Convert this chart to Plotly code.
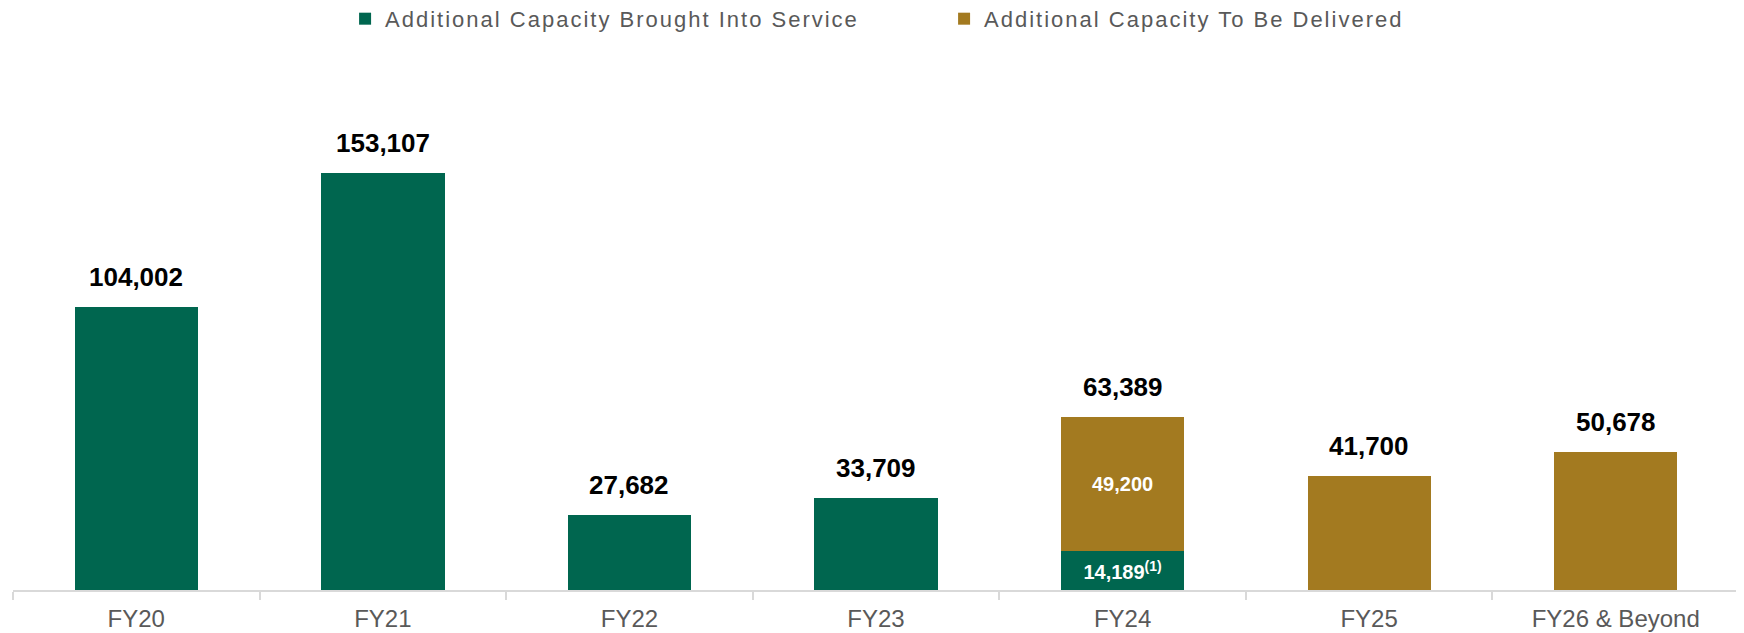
import plotly.graph_objects as go

years = ["FY20", "FY21", "FY22", "FY23", "FY24", "FY25", "FY26 & Beyond"]
in_service = [104002, 153107, 27682, 33709, 14189, None, None]
to_deliver = [None, None, None, None, 49200, 41700, 50678]
totals = [104002, 153107, 27682, 33709, 63389, 41700, 50678]
in_service_text = [None, None, None, None, "14,189<sup>(1)</sup>", None, None]
to_deliver_text = [None, None, None, None, "49,200", None, None]

GREEN = "#00664f"
GOLD = "#a37a20"
GREY = "#595959"
FONT = "Liberation Sans, Arial, sans-serif"


def spaced(s):
    # legend text in the original is slightly letter-spaced
    return f'<span style="letter-spacing:2px">{s}</span>'


fig = go.Figure()
fig.add_trace(go.Bar(
    x=years, y=in_service, name=spaced("Additional Capacity Brought Into Service"),
    marker=dict(color=GREEN, line=dict(width=0)),
    text=in_service_text, textposition="inside", insidetextanchor="middle",
    textangle=0, constraintext="none",
    textfont=dict(color="white", size=20, family=FONT, weight="bold"),
))
fig.add_trace(go.Bar(
    x=years, y=to_deliver, name=spaced("Additional Capacity To Be Delivered"),
    marker=dict(color=GOLD, line=dict(width=0)),
    text=to_deliver_text, textposition="inside", insidetextanchor="middle",
    textangle=0, constraintext="none",
    textfont=dict(color="white", size=20, family=FONT, weight="bold"),
))

# total labels above each column
for yr, tot in zip(years, totals):
    fig.add_annotation(
        x=yr, y=tot, text=f"{tot:,}", showarrow=False,
        yanchor="bottom", yshift=13,
        font=dict(color="black", size=26, family=FONT, weight="bold"),
    )

fig.update_layout(
    barmode="stack",
    bargap=0.5,
    width=1736, height=625,
    margin=dict(l=5, r=5, t=50, b=43, autoexpand=False),
    plot_bgcolor="white", paper_bgcolor="white",
    font=dict(family=FONT, color=GREY),
    showlegend=True,
    legend=dict(
        orientation="h", xref="paper", x=0.1924, xanchor="left",
        yref="paper", y=1.113, yanchor="top",
        font=dict(size=22, color=GREY), entrywidth=554, traceorder="normal",
    ),
    xaxis=dict(
        showline=True, linecolor="#d9d9d9", linewidth=2, automargin=False,
        ticks="outside", tickson="boundaries", ticklen=8, tickwidth=1.5,
        tickcolor="#d9d9d9", ticklabelstandoff=6,
        tickfont=dict(size=24, color=GREY),
    ),
    yaxis=dict(range=[0, 195300], visible=False, showgrid=False, automargin=False),
)

fig.write_html("out.html")
